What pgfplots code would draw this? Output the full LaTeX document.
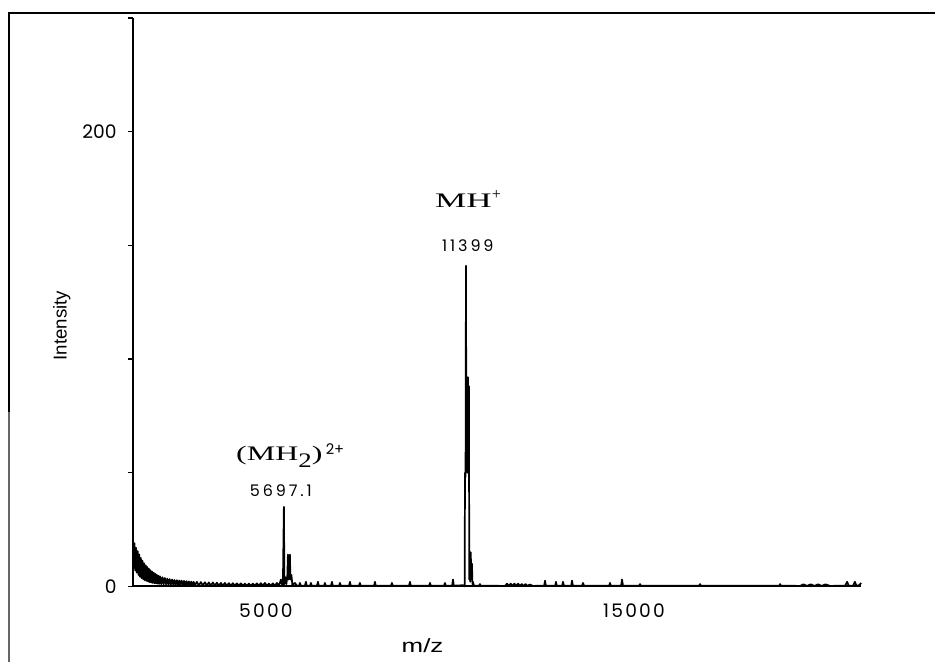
\documentclass[border=0pt]{standalone}
\usepackage{pgfplots}
\pgfplotsset{compat=1.18}
\usepackage{pgfplotstable}
\usepackage{graphicx}
\usepackage{fontspec}
\setmainfont{Liberation Sans}
\newfontfamily\tickfont{Poppins}
\newfontfamily\tickfontsp[LetterSpace=12]{Poppins}
\newfontfamily\numfont[LetterSpace=18]{Poppins}
\newfontfamily\annfont{Liberation Serif}

\pgfplotstableread{
mz intensity
1386 20
1408 8
1429 19
1451 7
1473 17
1495 6
1516 15.5
1538 5
1560 14
1582 4.2
1603 12.5
1625 3.6
1647 11.3
1668 3.1
1690 10.2
1712 2.7
1734 9.3
1755 2.4
1777 8.5
1799 2.1
1821 7.8
1842 1.9
1864 7.1
1886 1.7
1908 6.5
1929 1.5
1951 6.0
1973 1.4
1995 5.5
2016 1.3
2038 5.1
2060 1.2
2082 4.7
2103 1.1
2125 4.4
2158 1.0
2190 4.0
2223 0.9
2255 3.7
2288 0.9
2321 3.4
2353 0.8
2386 3.2
2418 0.8
2451 3.0
2484 0.7
2516 2.8
2549 0.7
2582 2.7
2614 0.6
2647 2.6
2679 0.6
2712 2.5
2745 0.6
2777 2.4
2810 0.5
2842 2.3
2875 0.5
2908 2.2
2940 0.5
2973 2.1
3005 0.5
3038 2.0
3071 0.4
3125 2.0
3179 0.4
3234 1.9
3288 0.4
3342 1.8
3397 0.4
3451 1.7
3505 0.3
3560 1.7
3614 0.3
3668 1.6
3723 0.3
3777 1.5
3831 0.3
3886 1.5
3940 0.3
3995 1.4
4049 0.3
4103 1.4
4158 0.3
4212 1.3
4266 0.3
4321 1.3
4375 0.3
4429 1.2
4484 0.3
4538 1.2
4592 0.3
4647 1.2
4701 0.3
4755 1.3
4810 0.3
4864 1.4
4918 0.3
4973 1.5
5027 0.3
5082 1.2
5136 0.3
5190 1.3
5245 0.3
5299 1.5
5353 0.4
5380 1.5
5408 3
5435 1
5462 0.5
5489 35
5503 1
5530 4
5557 1
5584 5
5598 14
5611 3
5625 12
5639 5
5652 14
5666 3
5693 5
5720 0.5
5788 1.5
5842 0.3
5900 0.3
5924 1.5
5950 0.3
6060 0.3
6087 2
6110 0.3
6200 0.3
6223 1.5
6245 0.3
6390 0.3
6413 2
6435 0.3
6580 0.3
6603 1.5
6625 0.3
6770 0.3
6794 2
6815 0.3
6990 0.3
7011 1.5
7035 0.3
7260 0.3
7283 2
7305 0.3
7530 0.3
7554 1.5
7575 0.3
7940 0.3
7962 2
7985 0.3
8400 0.3
8424 1.5
8445 0.3
8890 0.3
8913 2
8935 0.3
9435 0.3
9457 1.5
9480 0.3
9840 0.3
9864 1.5
9885 0.3
10060 0.3
10082 3
10105 0.3
10353 0.5
10400 0
10408 50
10424 48
10435 141
10446 52
10462 92
10476 50
10489 92
10503 50
10516 88
10524 3
10538 15
10552 2
10565 15
10579 3
10598 10
10611 1
10625 2
10652 0.3
10795 0.3
10815 1
10835 0.3
11495 0.2
11550 1.2
11600 0.2
11650 1.2
11700 0.2
11750 1.2
11800 0.2
11850 1.2
11900 0.2
11950 1.0
12000 0.2
12050 1.0
12100 0.2
12174 0.8
12250 0.2
12560 0.3
12582 2.5
12605 0.3
12860 0.3
12880 2
12900 0.3
13050 0.3
13071 2
13095 0.3
13295 0.3
13315 2.5
13340 0.3
13590 0.3
13614 1.5
13640 0.3
14325 0.3
14348 1.5
14370 0.3
14650 0.3
14674 3
14700 0.3
15140 0.3
15163 1
15185 0.3
16770 0.3
16794 1
16815 0.3
18945 0.3
18967 1
18990 0.3
19511 0.2
19600 0.9
19700 0.2
19800 0.9
19900 0.2
20000 0.9
20100 0.2
20200 0.9
20326 0.2
20734 0.3
20790 2
20830 0.3
20950 0.3
21000 2
21040 0.3
21120 0.5
21168 1.5
}\spectrum

\begin{document}
\begin{tikzpicture}
\begin{axis}[
  scale only axis,
  width=546.75pt, height=426.75pt,
  xmin=1386, xmax=21168, ymin=0, ymax=250,
  axis lines=left,
  axis line style={-, line width=1.5pt, black},
  xtick={5000,15000},
  xticklabels={5000,15000},
  scaled x ticks=false,
  scaled y ticks=false,
  ytick={0,50,100,150,200,250},
  yticklabels={0,{},{},{},200,{}},
  tick align=outside,
  major tick length=3.75pt,
  xtick style={draw=none},
  ytick style={line width=1.2pt, black},
  xticklabel style={font=\tickfontsp\fontsize{14}{14}\selectfont, anchor=north, inner sep=0pt, yshift=-9.5pt},
  yticklabel style={font=\tickfont\fontsize{14}{14}\selectfont, anchor=east, inner sep=0pt, xshift=-8.25pt},
  xlabel={\scalebox{1.35}[1]{m/z}},
  xlabel style={at={(rel axis cs:0.3978,-0.0984)}, anchor=base, yshift=-8pt, font=\fontsize{14.4}{15}\selectfont},
  ylabel={Intensity},
  ylabel style={at={(rel axis cs:-0.0974,0.4587)}, anchor=center, font=\fontsize{14}{14}\selectfont},
  clip=false,
]
\addplot[black, line width=1.3pt, sharp plot, line join=round, mark=none] table[x=mz, y=intensity] {\spectrum};

\node[anchor=base west, inner sep=0pt] at (axis cs:9592,166.5)
  {\annfont\fontsize{15.5}{15.5}\selectfont\scalebox{1.7}[1]{MH}\raisebox{6.5pt}{\fontsize{12}{12}\selectfont +}};
\node[anchor=base west, inner sep=0pt] at (axis cs:9783,147.2)
  {\numfont\fontsize{12}{12}\selectfont 11399};
\node[anchor=base west, inner sep=0pt] at (axis cs:4185,55.4)
  {\annfont\fontsize{15.5}{15.5}\selectfont\scalebox{1.55}[1]{(MH}\raisebox{-5.25pt}{\scalebox{1.3}[1]{2}}\scalebox{1.55}[1]{)}\hspace{2.5pt}\raisebox{4.5pt}{\tickfont\fontsize{11}{11}\selectfont 2+}};
\node[anchor=base, inner sep=0pt] at (axis cs:5408,39.5)
  {\numfont\fontsize{12}{12}\selectfont 5697.1};

\draw[line width=1.5pt, black] (rel axis cs:-0.17147,1.00879) -- (rel axis cs:1.10151,1.00879);
\draw[line width=1.5pt, black] (rel axis cs:-0.1701,1.00879) -- (rel axis cs:-0.1701,0.30756);
\draw[line width=0.8pt, black!60] (rel axis cs:-0.1701,0.30756) -- (rel axis cs:-0.1701,-0.13357);

\coordinate (bbsw) at (rel axis cs:-0.18244,-0.13357);
\coordinate (bbne) at (rel axis cs:1.10151,1.03163);
\end{axis}
\path (bbsw) rectangle (bbne);
\end{tikzpicture}
\end{document}
